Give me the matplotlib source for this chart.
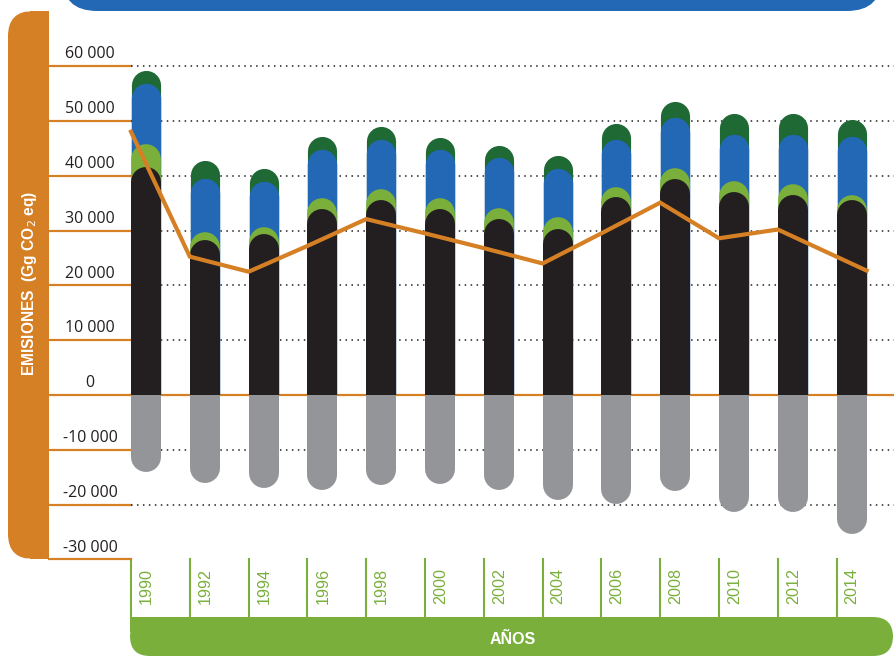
import numpy as np
import matplotlib
matplotlib.use('Agg')
import matplotlib.pyplot as plt
from matplotlib.patches import FancyBboxPatch, Rectangle
from matplotlib.transforms import blended_transform_factory

# datos (Gg CO2 eq)
years = ['1990', '1992', '1994', '1996', '1998', '2000', '2002',
         '2004', '2006', '2008', '2010', '2012', '2014']
energia = np.array([41550, 28300, 29300, 33900, 35600, 34000, 32200,
                    30300, 36100, 39500, 37000, 36550, 35600])
procesos = np.array([4250, 1400, 1400, 2000, 1900, 2000, 1900,
                     2200, 1900, 1900, 2000, 1950, 950])
agricultura = np.array([11200, 9950, 8300, 8950, 9300, 8800, 9300,
                        8900, 8800, 9300, 8700, 9200, 10750])
residuos = np.array([2300, 3250, 2400, 2450, 2300, 2300, 2200,
                     2400, 2900, 3000, 3700, 3800, 3000])
absorciones = np.array([-14100, -16000, -16900, -17300, -16400, -16200, -17300,
                        -19200, -19800, -17500, -21400, -21400, -25400])
balance = np.array([48050, 25250, 22500, 27200, 32100, 29500, 26800,
                    24000, 29500, 35100, 28600, 30200, 22700])
yticks = [60000, 50000, 40000, 30000, 20000, 10000, 0, -10000, -20000, -30000]
ytick_labels = ['60 000', '50 000', '40 000', '30 000', '20 000', '10 000', '0',
                '-10 000', '-20 000', '-30 000']

NEGRO = '#231F20'
VERDE_CLARO = '#7AAF3C'
AZUL = '#2268B4'
VERDE_OSC = '#1E6934'
GRIS = '#939598'
NARANJA = '#D68026'

# geometria en pixeles
W, H = 894, 656
SLOT = 58.8
X_FIRST = 146
Y_ZERO = 395
PX_10K = 54.8
BAR_PX = 30

NARROW = ['Liberation Sans', 'DejaVu Sans']
plt.rcParams['font.family'] = ['Open Sans', 'DejaVu Sans']

fig = plt.figure(figsize=(W / 100, H / 100), dpi=100)
bg = fig.add_axes([0, 0, 1, 1])
bg.set_xlim(0, W)
bg.set_ylim(H, 0)
bg.axis('off')

ax = fig.add_axes([0, 0, 1, 1], zorder=2)
ax.axis('off')
ax.set_xlim(-X_FIRST / SLOT, (W - X_FIRST) / SLOT)
ax.set_ylim(-(H - Y_ZERO) / PX_10K * 1e4, Y_ZERO / PX_10K * 1e4)
ax.set_autoscale_on(False)
trans = blended_transform_factory(bg.transData, ax.transData)

# marcos de color
bg.add_patch(FancyBboxPatch((62, -60), 820, 71, boxstyle='round,pad=0,rounding_size=35',
                            color=AZUL, lw=0))
bg.add_patch(FancyBboxPatch((8, 11), 41, 548, boxstyle='round,pad=0,rounding_size=25',
                            color=NARANJA, lw=0))
bg.add_patch(Rectangle((30, 11), 19, 548, color=NARANJA, lw=0))
bg.add_patch(FancyBboxPatch((130, 617), 763, 39, boxstyle='round,pad=0,rounding_size=20',
                            color=VERDE_CLARO, lw=0))
bg.add_patch(Rectangle((130, 617), 30, 15, color=VERDE_CLARO, lw=0))

bg.text(30, 283, 'EMISIONES  (Gg CO$_2$ eq)', rotation=90, ha='center', va='center',
        color='white', fontsize=11.2, fontweight='bold', family=NARROW)
bg.text(513, 639, 'AÑOS', ha='center', va='center', color='white',
        fontsize=11.5, fontweight='bold', family=NARROW)

# ejes x
x = np.arange(len(years))
for i, yr in enumerate(years):
    edge = X_FIRST - BAR_PX / 2 + i * SLOT
    bg.plot([edge, edge], [559, 617], color=VERDE_CLARO, lw=1.5)
    bg.text(edge + 20, 604, yr, rotation=90, rotation_mode='anchor',
            ha='left', va='baseline', color=VERDE_CLARO, fontsize=11.6, family=NARROW)

# ejes y
for v, lab in zip(yticks, ytick_labels):
    ax.plot([49, 131], [v, v], color=NARANJA, lw=1.6, transform=trans, zorder=1)
    if v == 0:
        ax.plot([131, W], [v, v], color=NARANJA, lw=1.6, transform=trans, zorder=1)
    elif v > -30000:
        ax.plot([131, W], [v, v], color=NEGRO, lw=1.1, ls=(0, (1, 2.9)),
                transform=trans, zorder=1)
    ax.text(90, v + 7.7 / PX_10K * 1e4, lab, transform=trans, ha='center',
            va='baseline', color=NEGRO, fontsize=11.5)

# barras redondeadas: lineas gruesas con extremo redondo, recortadas en cero
r = BAR_PX / 2 / PX_10K * 1e4
lw_bar = BAR_PX * 0.72
clip_pos = Rectangle((-5, 0), 30, 1e6, transform=ax.transData)
clip_neg = Rectangle((-5, -1e6), 30, 1e6, transform=ax.transData)
c1 = energia
c2 = c1 + procesos
c3 = c2 + agricultura
c4 = c3 + residuos
capas = [(c4, VERDE_OSC, 0.6), (c3, AZUL, 0.4), (c2, VERDE_CLARO, 0.2), (c1, NEGRO, 0)]
for z, (top, col, shrink) in enumerate(capas):
    for xi, t in zip(x, top):
        ln, = ax.plot([xi, xi], [0, t - r], color=col, lw=lw_bar - shrink,
                      solid_capstyle='round', zorder=3 + z)
        ln.set_clip_path(clip_pos)
for xi, t in zip(x, absorciones):
    ln, = ax.plot([xi, xi], [0, t + r], color=GRIS, lw=lw_bar,
                  solid_capstyle='round', zorder=7)
    ln.set_clip_path(clip_neg)

# balance neto
w = BAR_PX / SLOT
line_x = x - w / 2
line_x[-1] = x[-1] + w / 2
ax.plot(line_x, balance, color=NARANJA, lw=3, zorder=9, solid_joinstyle='miter')

plt.savefig('out.png', dpi=100)
